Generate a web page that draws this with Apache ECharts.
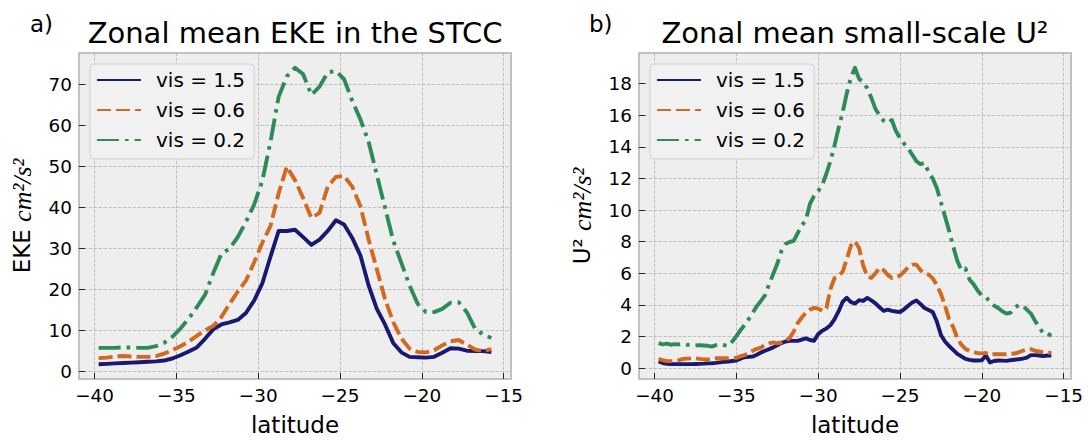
<!DOCTYPE html>
<html>
<head>
<meta charset="utf-8">
<script src="https://cdn.jsdelivr.net/npm/echarts@6/dist/echarts.min.js"></script>
<style>
  html, body { margin: 0; padding: 0; background: #ffffff; }
  #chart { width: 1088px; height: 441px; }
</style>
</head>
<body>
<div id="chart"></div>
<script>
// Latitudes (degrees north) of the EKE zonal means, 0.5 degree spacing
const latitude = [
  -39.75, -39.25, -38.75, -38.25, -37.75, -37.25, -36.75, -36.25, -35.75, -35.25,
  -34.75, -34.25, -33.75, -33.25, -32.75, -32.25, -31.75, -31.25, -30.75, -30.25,
  -29.75, -29.25, -28.75, -28.25, -27.75, -27.25, -26.75, -26.25, -25.75, -25.25,
  -24.75, -24.25, -23.75, -23.25, -22.75, -22.25, -21.75, -21.25, -20.75, -20.25,
  -19.75, -19.25, -18.75, -18.25, -17.75, -17.25, -16.75, -16.25, -15.75
];

// Latitudes of the small-scale U^2 zonal means, 0.25 degree spacing
const latitudeFine = [
  -39.75, -39.5, -39.25, -39, -38.75, -38.5, -38.25, -38, -37.75, -37.5,
  -37.25, -37, -36.75, -36.5, -36.25, -36, -35.75, -35.5, -35.25, -35,
  -34.75, -34.5, -34.25, -34, -33.75, -33.5, -33.25, -33, -32.75, -32.5,
  -32.25, -32, -31.75, -31.5, -31.25, -31, -30.75, -30.5, -30.25, -30,
  -29.75, -29.5, -29.25, -29, -28.75, -28.5, -28.25, -28, -27.75, -27.5,
  -27.25, -27, -26.75, -26.5, -26.25, -26, -25.75, -25.5, -25.25, -25,
  -24.75, -24.5, -24.25, -24, -23.75, -23.5, -23.25, -23, -22.75, -22.5,
  -22.25, -22, -21.75, -21.5, -21.25, -21, -20.75, -20.5, -20.25, -20,
  -19.75, -19.5, -19.25, -19, -18.75, -18.5, -18.25, -18, -17.75, -17.5,
  -17.25, -17, -16.75, -16.5, -16.25, -16, -15.75
];

// Panel a) zonal mean EKE (cm^2/s^2)
const ekeVis15 = [
  1.8, 1.9, 2.0, 2.1, 2.2, 2.3, 2.4, 2.5, 2.7, 3.2,
  4.0, 4.9, 5.9, 8.0, 10.3, 11.5, 12.0, 12.6, 14.3, 17.3,
  21.5, 28.0, 34.3, 34.3, 34.6, 32.8, 30.9, 32.2, 34.3, 36.9,
  35.9, 32.6, 28.3, 21.0, 15.3, 11.5, 7.0, 4.7, 3.6, 3.5,
  3.4, 3.6, 4.6, 5.7, 5.6, 5.1, 5.0, 5.0, 4.8
];
const ekeVis06 = [
  3.3, 3.4, 3.7, 3.8, 3.7, 3.6, 3.6, 3.8, 4.4, 5.2,
  6.2, 7.3, 8.7, 10.1, 11.1, 13.3, 16.5, 19.5, 22.2, 26.6,
  31.4, 35.5, 43.5, 50.0, 46.7, 42.3, 37.5, 38.7, 45.1, 47.5,
  47.7, 45.1, 40.3, 32.2, 25.0, 17.7, 12.1, 8.1, 5.6, 4.8,
  4.7, 5.2, 6.4, 7.4, 7.7, 6.6, 5.4, 5.0, 5.5
];
const ekeVis02 = [
  5.8, 5.8, 5.8, 5.9, 5.9, 5.8, 5.8, 6.2, 7.0, 8.5,
  10.5, 12.9, 15.7, 18.7, 24.0, 28.7, 30.0, 32.8, 36.5, 40.7,
  46.5, 56.0, 67.0, 72.0, 74.1, 72.5, 67.5, 69.5, 73.0, 73.3,
  71.3, 66.0, 61.5, 56.0, 48.0, 40.0, 32.0, 26.5, 21.0, 16.5,
  14.5, 14.5, 15.3, 16.8, 16.9, 14.5, 10.5, 9.0, 8.2
];

// Panel b) zonal mean small-scale U^2 (cm^2/s^2)
const u2Vis15 = [
  0.42, 0.32, 0.27, 0.26, 0.25, 0.25, 0.25, 0.25, 0.25, 0.26,
  0.27, 0.28, 0.30, 0.31, 0.33, 0.36, 0.39, 0.42, 0.45, 0.48,
  0.60, 0.69, 0.71, 0.73, 0.85, 0.98, 1.10, 1.20, 1.31, 1.45,
  1.58, 1.68, 1.73, 1.72, 1.72, 1.80, 1.88, 1.78, 1.73, 2.15,
  2.36, 2.50, 2.72, 3.10, 3.60, 4.20, 4.45, 4.18, 4.08, 4.30,
  4.25, 4.44, 4.28, 4.10, 3.85, 3.62, 3.70, 3.62, 3.58, 3.55,
  3.72, 3.95, 4.15, 4.28, 4.06, 3.80, 3.68, 3.55, 2.95, 2.10,
  1.68, 1.40, 1.15, 0.90, 0.74, 0.58, 0.52, 0.48, 0.48, 0.50,
  0.80, 0.36, 0.45, 0.48, 0.47, 0.46, 0.50, 0.53, 0.56, 0.60,
  0.66, 0.82, 0.82, 0.80, 0.76, 0.80, 0.79
];
const u2Vis06 = [
  0.58, 0.50, 0.44, 0.44, 0.45, 0.50, 0.58, 0.60, 0.62, 0.62,
  0.58, 0.55, 0.54, 0.57, 0.62, 0.62, 0.62, 0.62, 0.64, 0.65,
  0.75, 0.82, 0.95, 1.10, 1.22, 1.30, 1.47, 1.57, 1.63, 1.57,
  1.62, 1.72, 1.90, 2.30, 2.85, 3.20, 3.50, 3.70, 3.81, 3.76,
  3.62, 3.80, 5.00, 5.70, 5.85, 6.10, 6.90, 7.75, 8.02, 7.60,
  6.50, 5.80, 5.70, 6.00, 6.35, 6.20, 5.90, 5.70, 5.75, 5.85,
  6.10, 6.40, 6.55, 6.55, 6.20, 6.00, 5.92, 5.68, 5.25, 4.70,
  3.95, 3.10, 2.60, 1.90, 1.48, 1.21, 1.10, 1.02, 0.94, 0.93,
  0.96, 0.85, 0.88, 0.88, 0.88, 0.88, 0.90, 0.92, 1.00, 1.10,
  1.18, 1.20, 1.10, 1.05, 1.00, 0.97, 0.96
];
const u2Vis02 = [
  1.58, 1.50, 1.55, 1.48, 1.52, 1.50, 1.53, 1.47, 1.50, 1.44,
  1.45, 1.43, 1.41, 1.36, 1.45, 1.50, 1.45, 1.40, 1.68, 2.02,
  2.40, 2.72, 3.10, 3.50, 3.92, 4.25, 4.60, 5.30, 5.95, 6.60,
  7.40, 7.85, 7.98, 8.05, 8.55, 9.00, 9.40, 10.40, 10.90, 11.20,
  11.60, 12.30, 13.10, 14.10, 15.20, 16.20, 17.40, 18.40, 19.00, 18.30,
  18.10, 17.70, 17.10, 16.40, 16.00, 15.65, 15.50, 15.70, 15.00, 14.55,
  14.20, 13.90, 13.50, 13.10, 12.90, 13.00, 12.40, 12.00, 11.40, 10.50,
  9.60, 8.70, 7.70, 6.80, 6.20, 6.30, 5.60, 5.30, 4.90, 4.60,
  4.50, 4.20, 3.95, 3.80, 3.60, 3.45, 3.50, 3.80, 4.00, 3.95,
  3.70, 3.45, 3.00, 2.60, 2.20, 2.20, 2.04
];

// Axis ticks and labels
const latTicks = [-40, -35, -30, -25, -20, -15];
const ekeTicks = [0, 10, 20, 30, 40, 50, 60, 70];
const u2Ticks = [0, 2, 4, 6, 8, 10, 12, 14, 16, 18];
const seriesNames = ['vis = 1.5', 'vis = 0.6', 'vis = 0.2'];
const panelTitles = ['Zonal mean EKE in the STCC', 'Zonal mean small-scale U\u00b2'];
const panelTags = ['a)', 'b)'];

const SANS = 'DejaVu Sans';
const lineColors = ['#191970', '#d2691e', '#2e8b57'];
const lineDashes = ['solid', [14, 5], [22, 6, 3.6, 6]];
const LW = 3.9;

const fmtNum = v => (v < 0 ? '\u2212' : '') + Math.abs(v);

function pairs(xs, ys) { return xs.map((x, i) => [x, ys[i]]); }

const grids = [
  { left: 79, top: 53, width: 432, height: 330 },
  { left: 639, top: 53, width: 432, height: 330 }
];

const gridLine = { show: true, lineStyle: { color: '#b2b2b2', width: 0.8, type: [3.3, 1.6] } };
const tickStyle = { color: '#222', width: 1 };
const tickFont = { fontFamily: SANS, fontSize: 18.4, color: '#000' };

function xAxisFor(gi) {
  return {
    type: 'value', gridIndex: gi, min: -40.95, max: -14.55,
    name: 'latitude', nameLocation: 'middle', nameGap: 34,
    nameTextStyle: { fontFamily: SANS, fontSize: 23, color: '#000' },
    axisLine: { show: false, onZero: false },
    axisTick: { show: true, inside: true, length: 6, customValues: latTicks, lineStyle: tickStyle },
    axisLabel: Object.assign({ customValues: latTicks, formatter: fmtNum, margin: 7 }, tickFont),
    splitLine: gridLine
  };
}
const nameRich = {
  s: { fontFamily: SANS, fontSize: 23, color: '#000' },
  m: { fontFamily: 'Liberation Serif', fontStyle: 'italic', fontSize: 26, color: '#000' }
};
function yAxisFor(gi, min, max, ticks, nameText) {
  return {
    type: 'value', gridIndex: gi, min: min, max: max,
    name: nameText, nameLocation: 'middle', nameGap: 44, nameRotate: 90,
    nameTextStyle: { rich: nameRich, color: '#000' },
    axisLine: { show: false, onZero: false },
    axisTick: { show: true, inside: true, length: 6, customValues: ticks, lineStyle: tickStyle },
    axisLabel: Object.assign({ customValues: ticks, formatter: fmtNum, margin: 7 }, tickFont),
    splitLine: gridLine
  };
}

function lineSeries(gi, k, xs, ys) {
  return {
    type: 'line', name: seriesNames[k], xAxisIndex: gi, yAxisIndex: gi,
    data: pairs(xs, ys), showSymbol: false, symbol: 'none', smooth: false,
    clip: true, animation: false,
    lineStyle: { color: lineColors[k], width: LW, type: lineDashes[k], cap: 'butt', join: 'round' },
    itemStyle: { color: lineColors[k] }
  };
}

// Legend keys are bare line samples: the marker drawn by the key is made invisible
function legendFor(left) {
  return {
    data: seriesNames, orient: 'vertical', left: left, top: 64,
    itemWidth: 44, itemHeight: 14, itemGap: 10,
    padding: [6, 9, 9, 6],
    backgroundColor: '#f1f1f1', borderColor: '#d0d0d0', borderWidth: 1, borderRadius: 4,
    itemStyle: { opacity: 0, borderWidth: 0 },
    textStyle: { fontFamily: SANS, fontSize: 20, color: '#000', padding: [0, 0, 0, 10] },
    selectedMode: false
  };
}

const graphics = [];
[295, 855].forEach((cx, i) => {
  graphics.push({ type: 'text', x: cx, y: 33, silent: true,
    style: { text: panelTitles[i], x: 0, y: 0, align: 'center', verticalAlign: 'middle',
             font: '29px "DejaVu Sans"', fill: '#000' } });
});
[30, 589].forEach((lx, i) => {
  graphics.push({ type: 'text', x: lx, y: 24, silent: true,
    style: { text: panelTags[i], x: 0, y: 0, align: 'left', verticalAlign: 'middle',
             font: '23px "DejaVu Sans"', fill: '#000' } });
});

const chart = echarts.init(document.getElementById('chart'), null, { renderer: 'svg' });
chart.setOption({
  backgroundColor: '#ffffff',
  animation: false,
  grid: grids.map(g => Object.assign({ show: true, backgroundColor: '#eeeeee',
                                        borderColor: '#c2c2c2', borderWidth: 2 }, g)),
  xAxis: [xAxisFor(0), xAxisFor(1)],
  yAxis: [
    yAxisFor(0, -1.8, 77.7, ekeTicks, '{s|EKE }{m|cm\u00b2/s\u00b2}'),
    yAxisFor(1, -0.69, 19.94, u2Ticks, '{s|U\u00b2 }{m|cm\u00b2/s\u00b2}')
  ],
  legend: [legendFor(90), legendFor(650)],
  series: [
    lineSeries(0, 0, latitude, ekeVis15),
    lineSeries(0, 1, latitude, ekeVis06),
    lineSeries(0, 2, latitude, ekeVis02),
    lineSeries(1, 0, latitudeFine, u2Vis15),
    lineSeries(1, 1, latitudeFine, u2Vis06),
    lineSeries(1, 2, latitudeFine, u2Vis02)
  ],
  graphic: graphics
});
</script>
</body>
</html>
